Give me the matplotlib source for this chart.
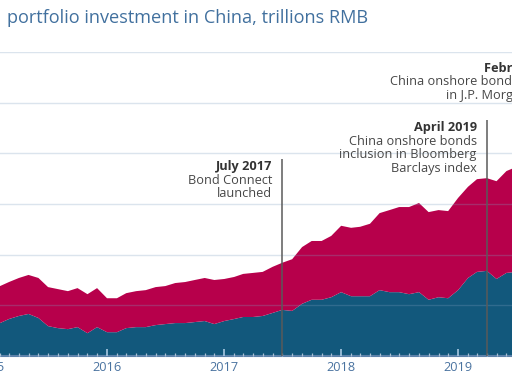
"""
Foreign portfolio investment in China, stacked area
"""
import matplotlib
matplotlib.use('Agg')
import matplotlib.pyplot as plt
import matplotlib.dates as mdates
import pandas as pd

plt.rcParams['font.family'] = ['Open Sans', 'DejaVu Sans']

months = pd.date_range('2015-01-01', periods=55, freq='MS')
lower_vals = [0.59, 0.65, 0.73, 0.79, 0.83, 0.75, 0.59, 0.55, 0.53, 0.57, 0.45, 0.57,
              0.47, 0.47, 0.55, 0.57, 0.57, 0.61, 0.63, 0.65, 0.65, 0.67, 0.69, 0.63,
              0.69, 0.73, 0.77, 0.77, 0.79, 0.85, 0.91, 0.89, 1.03, 1.11, 1.11, 1.16,
              1.26, 1.18, 1.18, 1.18, 1.30, 1.26, 1.26, 1.22, 1.26, 1.11, 1.16, 1.14,
              1.30, 1.54, 1.66, 1.68, 1.52, 1.64, 1.66]
upper_vals = [0.74, 0.73, 0.73, 0.75, 0.77, 0.79, 0.77, 0.77, 0.75, 0.77, 0.77, 0.77,
              0.67, 0.67, 0.69, 0.71, 0.73, 0.75, 0.75, 0.79, 0.81, 0.83, 0.85, 0.87,
              0.83, 0.83, 0.85, 0.87, 0.87, 0.91, 0.93, 1.02, 1.12, 1.16, 1.16, 1.21,
              1.31, 1.35, 1.37, 1.43, 1.52, 1.62, 1.68, 1.72, 1.76, 1.73, 1.72, 1.72,
              1.82, 1.80, 1.83, 1.83, 1.93, 2.01, 2.07]
title_text = 'portfolio investment in China, trillions RMB'
notes = [
    ('2017-07-01', 3.89, ['July 2017', 'Bond Connect', 'launched']),
    ('2019-04-01', 4.66, ['April 2019', 'China onshore bonds', 'inclusion in Bloomberg', 'Barclays index']),
    ('2020-02-01', 5.83, ['February 2020', 'China onshore bonds inclusion', 'in J.P. Morgan GBI-EM']),
]

RED = '#b7004b'
BLUE = '#12587c'
W, H = 512, 385

fig = plt.figure(figsize=(W / 100, H / 100), dpi=100)
# 轴比画布宽, 左右被裁掉
left_px, right_px = -20, 515
ax = fig.add_axes([left_px / W, (H - 356) / H, (right_px - left_px) / W, (356 - 52) / H])

x0 = mdates.date2num(pd.Timestamp('2016-01-01'))
px_per_day = 117 / 365.25
ax.set_xlim(x0 + (left_px - 107) / px_per_day, x0 + (right_px - 107) / px_per_day)
ax.set_ylim(0, 6)

total = [a + b for a, b in zip(lower_vals, upper_vals)]
ax.fill_between(months, 0, lower_vals, color=BLUE, lw=0, zorder=1)
ax.fill_between(months, lower_vals, total, color=RED, lw=0, zorder=1)

# 网格
ax.set_axisbelow(False)
ax.set_yticks(range(1, 7))
ax.yaxis.grid(True, color='#7f9fbf', alpha=0.28, lw=1)
ax.tick_params(axis='y', left=False, labelleft=False)

ax.xaxis.set_major_locator(mdates.YearLocator())
ax.xaxis.set_major_formatter(mdates.DateFormatter('%Y'))
ax.xaxis.set_minor_locator(mdates.MonthLocator())
ax.tick_params(axis='x', which='major', direction='in', length=5, width=1.2,
               color='#a9c8e2', labelcolor='#4a73a0', labelsize=9.2, pad=3.3)
ax.tick_params(axis='x', which='minor', direction='in', length=2.5, width=0.9,
               color='#a9bfd3')
for s in ['top', 'left', 'right']:
    ax.spines[s].set_visible(False)
ax.spines['bottom'].set_color('#5d82aa')
ax.spines['bottom'].set_linewidth(1.5)

for when, top, lines in notes:
    d = pd.Timestamp(when)
    ax.vlines(d, 0, top, color='#5a5a5a', lw=1.1, zorder=3)
    for i, s in enumerate(lines):
        ax.annotate(s, xy=(d, top), xytext=(-7.3, -5.4 - i * 9.8), textcoords='offset points',
                    ha='right', va='center', fontsize=9.2,
                    fontweight='bold' if i == 0 else 'normal',
                    color='#333333' if i == 0 else '#474747', annotation_clip=False)

fig.text(7 / W, 1 - 18 / H, title_text, ha='left', va='center', fontsize=13.1,
         color='#41709e')

fig.savefig('out.png', dpi=100)
